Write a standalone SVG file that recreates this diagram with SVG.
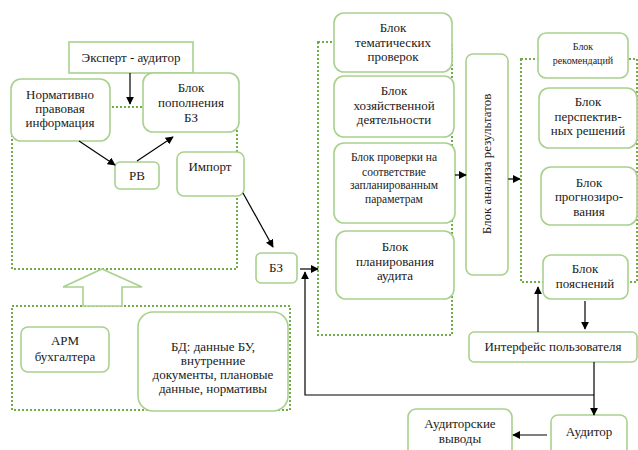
<svg xmlns="http://www.w3.org/2000/svg" width="638" height="450" viewBox="0 0 638 450">
<defs>
<marker id="ah" viewBox="0 0 10 10" refX="9" refY="5" markerWidth="8" markerHeight="8" markerUnits="userSpaceOnUse" orient="auto">
<path d="M0,0 L10,5 L0,10 z" fill="#000"/>
</marker>
<style>
.b{fill:#fff;stroke:#a9d18e;stroke-width:1.6}
.d{fill:none;stroke:#70ad47;stroke-width:2;stroke-dasharray:2 2}
.t{font-family:"Liberation Serif","DejaVu Serif",serif;font-size:13px;fill:#1a1a1a;text-anchor:middle}
.s{font-size:11.5px}
.xs{font-size:10px}
.c{fill:none;stroke:#000;stroke-width:1.2}
</style>
</defs>
<rect width="638" height="450" fill="#fff"/>
<g id="containers">
<rect class="d" x="12" y="107" width="225" height="162"/>
<rect class="d" x="12" y="306" width="278" height="104"/>
<rect class="d" x="318" y="42" width="134" height="293"/>
<rect class="d" x="521" y="59" width="116" height="223"/>
<polygon id="bigarrow" points="102,269 142,287 122,287 122,306 83,306 83,287 63,287" fill="#fff" stroke="#a9d18e" stroke-width="1.6"/>
</g>
<g id="expert"><rect class="b" x="69" y="42" width="124" height="31"/><text class="t" x="131" y="62">Эксперт - аудитор</text></g>
<g id="norm"><rect class="b" x="11" y="79" width="99" height="62" rx="10"/><text class="t" x="60" y="99">Нормативно</text><text class="t" x="60" y="113">правовая</text><text class="t" x="60" y="127">информация</text></g>
<g id="popoln"><rect class="b" x="143" y="73" width="96" height="59" rx="10"/><text class="t" x="191" y="92">Блок</text><text class="t" x="191" y="107">пополнения</text><text class="t" x="191" y="122">БЗ</text></g>
<g id="rv"><rect class="b" x="115" y="162" width="44" height="27" rx="5"/><text class="t" x="137" y="180">РВ</text></g>
<g id="import"><rect class="b" x="177" y="152" width="67" height="44" rx="7"/><text class="t" x="210" y="171">Импорт</text></g>
<g id="bz"><rect class="b" x="256" y="253" width="41" height="30" rx="5"/><text class="t" x="276" y="272">БЗ</text></g>
<g id="arm"><rect class="b" x="21" y="327" width="88" height="45" rx="7"/><text class="t" x="65" y="345">АРМ</text><text class="t" x="65" y="361">бухгалтера</text></g>
<g id="bd"><rect class="b" x="138" y="312" width="150" height="99" rx="15"/><text class="t" x="213" y="351">БД: данные БУ,</text><text class="t" x="213" y="365">внутренние</text><text class="t" x="213" y="379">документы, плановые</text><text class="t" x="213" y="393">данные, нормативы</text></g>
<g id="tem"><rect class="b" x="334" y="13" width="118" height="59" rx="10"/><text class="t" x="393" y="32">Блок</text><text class="t" x="393" y="47">тематических</text><text class="t" x="393" y="61">проверок</text></g>
<g id="hoz"><rect class="b" x="334" y="76" width="120" height="61" rx="10"/><text class="t" x="394" y="95">Блок</text><text class="t" x="394" y="110">хозяйственной</text><text class="t" x="394" y="124">деятельности</text></g>
<g id="prov"><rect class="b" x="334" y="143" width="121" height="80" rx="10"/><text class="t s" x="394" y="161">Блок проверки на</text><text class="t s" x="394" y="176">соответствие</text><text class="t s" x="394" y="189">запланированным</text><text class="t s" x="394" y="203">параметрам</text></g>
<g id="plan"><rect class="b" x="336" y="231" width="118" height="68" rx="10"/><text class="t" x="395" y="251">Блок</text><text class="t" x="395" y="266">планирования</text><text class="t" x="395" y="280">аудита</text></g>
<g id="analysis"><rect class="b" x="466" y="54" width="42" height="221" rx="7"/><text class="t" transform="translate(491,164) rotate(-90)" x="0" y="0">Блок анализа результатов</text></g>
<g id="rec"><rect class="b" x="538" y="33" width="90" height="45" rx="8"/><text class="t xs" x="583" y="50">Блок</text><text class="t xs" x="583" y="64">рекомендаций</text></g>
<g id="persp"><rect class="b" x="539" y="88" width="98" height="60" rx="10"/><text class="t" x="588" y="106">Блок</text><text class="t" x="588" y="121">перспектив-</text><text class="t" x="588" y="135">ных решений</text></g>
<g id="progn"><rect class="b" x="541" y="167" width="96" height="58" rx="10"/><text class="t" x="589" y="187">Блок</text><text class="t" x="589" y="201">прогнозиро-</text><text class="t" x="589" y="216">вания</text></g>
<g id="poyasn"><rect class="b" x="543" y="255" width="85" height="44" rx="8"/><text class="t" x="585" y="273">Блок</text><text class="t" x="585" y="288">пояснений</text></g>
<g id="iface"><rect class="b" x="469" y="332" width="168" height="30" rx="5"/><text class="t" x="553" y="351">Интерфейс пользователя</text></g>
<g id="auditor"><rect class="b" x="551" y="415" width="76" height="42" rx="7"/><text class="t" x="589" y="436">Аудитор</text></g>
<g id="vyvody"><rect class="b" x="408" y="409" width="104" height="48" rx="8"/><text class="t" x="460" y="428">Аудиторские</text><text class="t" x="460" y="443">выводы</text></g>
<g id="connectors">
<line class="c" x1="130" y1="73" x2="130" y2="104" marker-end="url(#ah)"/>
<line class="c" x1="79" y1="141" x2="115" y2="165" marker-end="url(#ah)"/>
<line class="c" x1="137" y1="161" x2="173" y2="137" marker-end="url(#ah)"/>
<line class="c" x1="243" y1="193" x2="273" y2="247" marker-end="url(#ah)"/>
<line class="c" x1="300" y1="269" x2="318" y2="269" marker-end="url(#ah)"/>
<polyline class="c" points="594,395 305,395 305,272" marker-end="url(#ah)"/>
<line class="c" x1="594" y1="362" x2="594" y2="415" marker-end="url(#ah)"/>
<line class="c" x1="455" y1="175" x2="466" y2="175" marker-end="url(#ah)"/>
<line class="c" x1="508" y1="179" x2="520" y2="179" marker-end="url(#ah)"/>
<line class="c" x1="538" y1="332" x2="538" y2="287" marker-end="url(#ah)"/>
<line class="c" x1="585" y1="301" x2="585" y2="329" marker-end="url(#ah)"/>
<line class="c" x1="547" y1="435" x2="513" y2="435" marker-end="url(#ah)"/>
</g>
</svg>
